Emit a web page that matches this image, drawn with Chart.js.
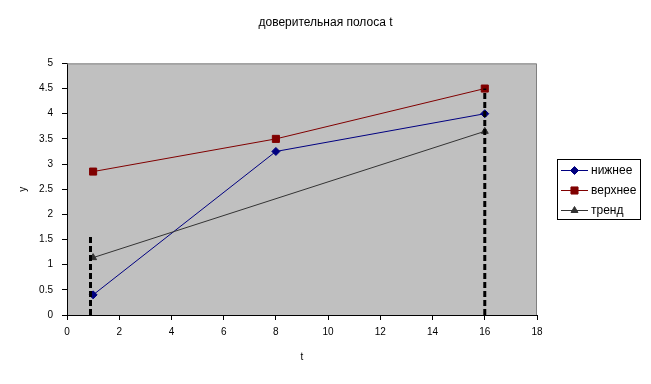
<!DOCTYPE html>
<html>
<head>
<meta charset="utf-8">
<script src="https://cdn.jsdelivr.net/npm/chart.js@4.4.0/dist/chart.umd.min.js"></script>
<style>
  html, body { margin: 0; padding: 0; background: #fff; }
</style>
</head>
<body>
<canvas id="bandChart" width="651" height="384"></canvas>
<script>
// Chart data
const chartTitle = "доверительная полоса t";
const xTitle = "t";
const yTitle = "y";
const seriesNames = ["нижнее", "верхнее", "тренд"];

const lowerT = [1, 8, 16];
const lowerY = [0.4, 3.25, 4.0];
const upperT = [1, 8, 16];
const upperY = [2.85, 3.5, 4.5];
const trendT = [1, 16];
const trendY = [1.14, 3.65];

// dashed band limits
const leftBandT = [0.9, 0.9];
const leftBandY = [0, 1.55];
const rightBandT = [16, 16];
const rightBandY = [0, 4.5];

const toPoints = (xs, ys) => xs.map((x, i) => ({ x: x, y: ys[i] }));

const FONT = "'Liberation Sans', Arial, sans-serif";

// gray plot area with a thin gray frame on top / right
const plotBackground = {
    id: 'plotBackground',
    beforeDraw(chart) {
        const { ctx, chartArea: a } = chart;
        ctx.save();
        ctx.fillStyle = '#c0c0c0';
        ctx.fillRect(a.left, a.top, a.right - a.left, a.bottom - a.top);
        ctx.restore();
    },
    beforeDatasetsDraw(chart) {
        const { ctx, chartArea: a } = chart;
        ctx.save();
        ctx.strokeStyle = '#808080';
        ctx.lineWidth = 1;
        ctx.beginPath();
        ctx.moveTo(a.left, a.top + 0.5);
        ctx.lineTo(a.right - 0.5, a.top + 0.5);
        ctx.lineTo(a.right - 0.5, a.bottom);
        ctx.stroke();
        ctx.restore();
    }
};

// excel-like legend: framed box, line + marker per series
const boxLegend = {
    id: 'boxLegend',
    afterDraw(chart) {
        const { ctx, chartArea: a } = chart;
        const items = chart.data.datasets.filter(d => d.inLegend);
        const rowH = 20;
        const w = 83;
        const h = items.length * rowH;
        const left = a.right + 20;
        const top = Math.round((a.top + a.bottom) / 2 - h / 2);

        ctx.save();
        ctx.fillStyle = '#fff';
        ctx.fillRect(left, top, w, h);
        ctx.strokeStyle = '#000';
        ctx.lineWidth = 1;
        ctx.strokeRect(left + 0.5, top + 0.5, w, h);

        items.forEach((d, i) => {
            const y = top + 11.5 + i * rowH;
            ctx.strokeStyle = d.borderColor;
            ctx.lineWidth = 1;
            ctx.beginPath();
            ctx.moveTo(left + 4, y);
            ctx.lineTo(left + 31, y);
            ctx.stroke();

            ctx.fillStyle = d.pointBackgroundColor;
            ctx.strokeStyle = d.pointBorderColor;
            Chart.helpers.drawPoint(ctx, {
                pointStyle: d.pointStyle,
                radius: d.pointRadius,
                rotation: 0,
                borderWidth: 1
            }, left + 17.5, y);

            ctx.fillStyle = '#000';
            ctx.font = '12px ' + FONT;
            ctx.textBaseline = 'middle';
            ctx.textAlign = 'left';
            ctx.fillText(d.label, left + 34, y);
        });
        ctx.restore();
    }
};

const ctx = document.getElementById("bandChart").getContext("2d");
new Chart(ctx, {
    type: 'line',
    data: {
        datasets: [
            {
                label: seriesNames[0],
                inLegend: true,
                data: toPoints(lowerT, lowerY),
                borderColor: '#000080',
                borderWidth: 1,
                pointStyle: 'rectRot',
                pointRadius: 4,
                pointBackgroundColor: '#000080',
                pointBorderColor: '#000080',
                order: 3
            },
            {
                label: seriesNames[1],
                inLegend: true,
                data: toPoints(upperT, upperY),
                borderColor: '#800000',
                borderWidth: 1,
                pointStyle: 'rect',
                pointRadius: 5,
                pointBackgroundColor: '#800000',
                pointBorderColor: '#800000',
                order: 2
            },
            {
                label: seriesNames[2],
                inLegend: true,
                data: toPoints(trendT, trendY),
                borderColor: '#333333',
                borderWidth: 1,
                pointStyle: 'triangle',
                pointRadius: 4,
                pointBackgroundColor: '#333333',
                pointBorderColor: '#333333',
                order: 1
            },
            {
                label: '',
                data: toPoints(leftBandT, leftBandY),
                borderColor: '#000',
                borderWidth: 3,
                borderDash: [6, 3],
                pointRadius: 0,
                order: 0
            },
            {
                label: '',
                data: toPoints(rightBandT, rightBandY),
                borderColor: '#000',
                borderWidth: 3,
                borderDash: [6, 3],
                pointRadius: 0,
                order: 0
            }
        ]
    },
    options: {
        responsive: false,
        animation: false,
        devicePixelRatio: 1,
        layout: {
            padding: 0
        },
        plugins: {
            legend: { display: false },
            tooltip: { enabled: false },
            title: {
                display: true,
                text: chartTitle,
                color: '#000',
                font: { family: FONT, size: 12, weight: 'normal' },
                padding: { top: 15, bottom: 34 }
            }
        },
        scales: {
            x: {
                type: 'linear',
                min: 0,
                max: 18,
                ticks: {
                    stepSize: 2,
                    color: '#000',
                    padding: 6,
                    font: { family: FONT, size: 10 }
                },
                grid: {
                    drawOnChartArea: false,
                    drawTicks: true,
                    tickLength: 5,
                    color: '#000'
                },
                border: { color: '#000', width: 1 },
                title: {
                    display: true,
                    text: xTitle,
                    color: '#000',
                    font: { family: FONT, size: 10 },
                    padding: { top: 0, bottom: 21 }
                },
                afterFit: scale => { scale.height = 69; }
            },
            y: {
                min: 0,
                max: 5,
                ticks: {
                    stepSize: 0.5,
                    color: '#000',
                    padding: 9,
                    font: { family: FONT, size: 10 },
                    callback: v => String(v)
                },
                grid: {
                    drawOnChartArea: false,
                    drawTicks: true,
                    tickLength: 5,
                    color: '#000'
                },
                border: { color: '#000', width: 1 },
                title: {
                    display: true,
                    text: yTitle,
                    color: '#000',
                    font: { family: FONT, size: 10 },
                    padding: { top: 17, bottom: 0 }
                },
                afterFit: scale => { scale.width = 67; }
            },
            // empty right-hand axis: keeps room for the legend box
            yLegendSpace: {
                position: 'right',
                display: true,
                ticks: { display: false },
                grid: { display: false },
                border: { display: false },
                afterFit: scale => { scale.width = 114; }
            }
        }
    },
    plugins: [plotBackground, boxLegend]
});
</script>
</body>
</html>
